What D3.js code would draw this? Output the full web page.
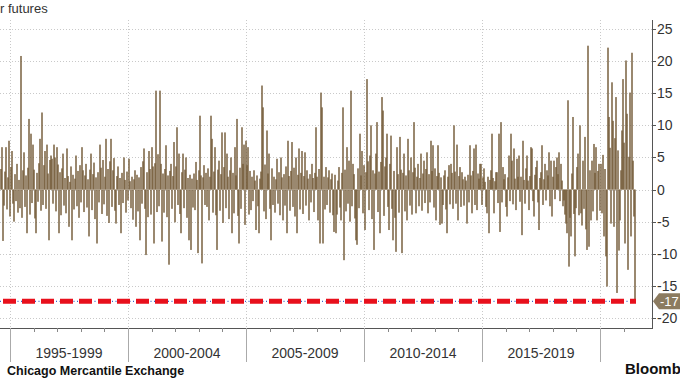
<!DOCTYPE html>
<html><head><meta charset="utf-8">
<script src="https://cdn.jsdelivr.net/npm/d3@7"></script>
<style>body{margin:0;background:#fff;} svg{display:block;}</style>
</head><body>
<svg id="c" width="680" height="383"></svg>
<script>
// bar values (one bar per period, left to right)
const values = [
/*0*/ 3.2,6.6,-8.0,-2.5,2.8,6.6,-3.1,1.9,7.6,-4.2,
/*10*/ 3.5,6.0,-2.2,-5.0,2.4,-1.8,4.0,-3.6,1.5,-2.9,
/*20*/ 20.8,-4.4,3.0,5.8,-2.7,2.2,-6.8,3.4,11.0,-3.9,
/*30*/ 8.7,-2.1,7.0,3.1,-4.5,-6.8,2.6,-1.9,4.1,7.9,
/*40*/ -3.3,12.0,-2.4,3.8,6.0,-3.0,7.0,2.5,-7.9,4.6,
/*50*/ 5.3,4.8,-2.2,7.0,5.0,-3.4,6.6,3.9,-6.8,2.7,
/*60*/ -4.0,3.3,5.6,-2.5,1.8,-3.7,6.4,2.1,-5.8,1.2,
/*70*/ 3.6,-7.9,2.3,-3.1,1.7,5.3,-2.6,2.9,-4.4,3.8,
/*80*/ -2.0,6.6,3.0,-3.5,2.2,4.0,-2.8,1.6,-7.3,3.1,
/*90*/ 5.6,-3.2,2.4,4.2,-4.6,1.9,-8.4,2.7,-2.0,7.0,
/*100*/ 3.4,-3.8,4.6,-2.3,2.0,7.9,-4.1,3.2,-5.2,4.4,
/*110*/ 7.9,-2.7,3.0,4.9,-3.3,-5.3,2.1,3.6,-2.4,1.8,
/*120*/ -6.8,2.6,-2.1,5.0,1.5,-3.6,2.8,-1.7,4.8,1.3,
/*130*/ -2.9,2.0,-4.7,1.6,3.0,-5.8,2.3,-3.4,1.9,-7.9,
/*140*/ 3.5,-2.2,4.4,6.4,-3.0,-10.2,2.7,-4.3,6.0,3.2,
/*150*/ -3.9,6.6,3.6,-8.4,4.1,15.4,-3.5,5.5,-2.6,15.4,
/*160*/ 4.0,-8.1,2.5,-3.6,3.2,6.9,-4.3,2.2,-11.7,2.9,
/*170*/ 4.0,-3.0,2.1,7.4,-5.1,3.6,9.7,-2.4,5.6,-3.8,
/*180*/ -6.8,2.7,5.6,-2.9,3.1,5.0,-4.4,1.8,-7.9,2.3,
/*190*/ -9.4,1.7,-2.8,2.5,-3.2,4.3,1.5,-9.9,3.0,11.5,
/*200*/ 2.2,-11.5,1.9,3.8,-2.4,2.6,-2.7,3.3,-4.8,2.0,
/*210*/ 11.5,7.9,-3.6,2.8,6.6,-4.0,-9.4,3.1,4.5,-3.3,
/*220*/ 2.4,8.9,-5.2,3.5,8.9,-2.9,5.6,2.0,-4.6,3.0,
/*230*/ 5.0,-6.8,2.6,-3.7,6.6,2.2,11.0,-4.1,-8.4,3.4,
/*240*/ -3.0,9.7,4.0,7.0,-5.5,7.6,3.8,6.6,-3.9,2.9,
/*250*/ -3.2,2.0,-1.8,3.0,1.4,-6.3,2.2,-2.6,-6.8,1.7,
/*260*/ 2.8,16.2,12.8,-3.4,3.9,-4.6,9.2,2.5,5.6,-3.0,
/*270*/ -7.9,3.3,-2.4,2.0,-3.6,1.6,4.8,-2.2,2.7,-4.0,
/*280*/ 5.0,1.9,-4.8,2.4,-2.5,3.6,-6.8,7.6,2.1,-3.3,
/*290*/ 2.9,7.4,-2.7,3.4,-4.2,5.0,-6.8,2.3,6.4,-3.1,
/*300*/ 2.6,6.0,-3.8,2.1,5.8,-2.5,3.0,1.7,-4.8,2.4,
/*310*/ -2.0,4.0,1.8,-3.5,2.6,9.7,2.0,-4.8,3.2,-8.4,
/*320*/ 15.1,12.8,-8.4,2.0,-3.1,3.5,-2.4,1.9,3.0,-3.6,
/*330*/ 1.6,2.5,-4.0,-6.6,2.3,-6.8,-3.9,1.4,3.5,-2.8,
/*340*/ -4.8,2.6,12.8,-11.0,3.1,-3.4,6.6,-2.2,4.5,-5.0,
/*350*/ 15.4,-2.6,4.0,2.4,-4.5,-7.9,-8.6,3.3,-2.9,8.7,
/*360*/ 2.2,6.0,-3.7,3.8,-6.3,2.7,17.2,4.4,-3.2,5.3,
/*370*/ 10.0,-4.6,3.0,-9.4,2.5,5.6,10.5,-3.5,2.8,-6.8,
/*380*/ 4.3,14.4,12.3,-4.1,3.6,5.0,8.7,-2.7,-6.3,4.0,
/*390*/ 8.4,-3.0,-7.9,2.9,-4.4,-9.7,6.6,2.4,-3.6,8.2,
/*400*/ 3.1,-9.9,2.6,5.6,-3.4,2.2,-4.8,7.9,3.0,-2.5,
/*410*/ 5.0,-3.9,2.7,10.5,3.4,-3.7,2.0,4.0,-2.6,1.8,
/*420*/ 5.6,-3.3,2.5,4.5,-2.1,3.2,5.8,-3.7,2.4,-2.0,
/*430*/ 7.6,2.9,6.9,-2.8,3.3,-4.8,2.1,6.9,2.6,-5.5,
/*440*/ 1.9,-5.3,-2.4,2.2,3.0,-3.1,-6.8,2.0,3.8,-2.3,
/*450*/ 4.0,2.6,-3.0,10.0,2.8,-2.2,7.0,-4.8,2.1,3.5,
/*460*/ -2.7,2.7,1.6,-2.5,2.0,1.4,-5.3,2.3,-2.0,6.9,
/*470*/ 2.2,-3.7,2.9,6.4,-2.4,7.0,-3.2,2.5,1.7,4.0,
/*480*/ 4.0,-2.4,1.9,3.3,1.2,-2.7,-3.7,2.0,-6.8,1.5,
/*490*/ 3.0,8.7,1.8,-3.7,1.3,2.7,2.7,-2.1,8.7,-6.6,
/*500*/ 10.5,-2.0,3.5,1.6,2.4,-2.7,-4.2,1.9,5.3,-1.8,
/*510*/ 8.7,4.5,-2.3,6.4,1.7,-3.2,4.8,2.0,5.3,-1.9,
/*520*/ 2.0,-7.1,7.6,1.5,-2.2,3.3,5.3,1.4,-3.2,2.1,
/*530*/ 6.6,6.4,-1.8,-4.2,2.3,3.5,4.5,-2.0,-6.3,1.8,
/*540*/ 2.7,6.9,-2.4,1.6,4.0,-1.7,3.0,2.2,5.8,-2.6,
/*550*/ 4.5,-4.2,2.0,4.5,-1.5,3.5,5.0,2.4,5.8,-1.8,
/*560*/ 4.0,1.4,-2.6,-1.7,-3.9,-5.3,-6.8,13.9,-12.0,-4.4,
/*570*/ -7.3,2.5,11.3,-3.8,-10.4,-2.9,3.5,5.6,-4.0,10.0,
/*580*/ -3.7,-5.6,4.5,-3.0,8.2,-6.2,-9.4,22.4,-8.9,3.0,
/*590*/ -4.8,4.5,-3.4,7.1,2.6,6.6,-4.8,2.9,4.0,-3.3,
/*600*/ 4.0,-3.7,5.4,-7.3,3.2,-10.4,-15.1,22.1,11.3,6.5,
/*610*/ -5.3,16.7,10.7,-5.8,8.0,14.4,-16.1,6.1,-9.5,-4.8,
/*620*/ 3.0,9.2,17.2,7.3,-8.4,20.1,11.8,-12.5,5.1,15.1,
/*630*/ -7.3,21.3,4.5,-4.2,-17.4
];
const yTicks = [25, 20, 15, 10, 5, 0, -5, -10, -15, -20];
const periodBounds = [1995, 2000, 2005, 2010, 2015, 2020];
const periodLabels = ["1995-1999", "2000-2004", "2005-2009", "2010-2014", "2015-2019"];
const minorYears = [1994,1996,1997,1998,1999,2001,2002,2003,2004,2006,2007,2008,2009,2011,2012,2013,2014,2016,2017,2018,2019,2021];
const latestValue = -17.4;
const latestLabel = "-17";
const titleText = "r futures";
const sourceText = "Chicago Mercantile Exchange";
const brandText = "Bloomberg";

const svg = d3.select("#c");
const plotLeft = 0, plotRight = 652, plotTop = 20, axisY = 328;
const y = d3.scaleLinear().domain([-20, 25]).range([318, 29]);
const xBar = d3.scaleLinear().domain([0, values.length]).range([0, 635]);
const xYear = d3.scaleLinear().domain([1995, 2020]).range([10, 600]);

// horizontal gridlines
svg.append("g").selectAll("line").data(yTicks).join("line")
  .attr("x1", plotLeft).attr("x2", plotRight)
  .attr("y1", d => Math.round(y(d)) + 0.5).attr("y2", d => Math.round(y(d)) + 0.5)
  .attr("stroke", "#c9c9c9").attr("stroke-width", 1).attr("stroke-dasharray", "1,2");
// vertical gridlines
svg.append("g").selectAll("line").data(periodBounds).join("line")
  .attr("x1", d => Math.round(xYear(d)) + 0.5).attr("x2", d => Math.round(xYear(d)) + 0.5)
  .attr("y1", plotTop).attr("y2", axisY)
  .attr("stroke", "#c9c9c9").attr("stroke-width", 1).attr("stroke-dasharray", "1,2");

// bars (slightly overlapping, semi-opaque so dense areas read darker)
svg.append("g").selectAll("rect").data(values).join("rect")
  .attr("x", (d, i) => xBar(i))
  .attr("width", (d, i) => (xBar(i + 1) - xBar(i)) * 2)
  .attr("y", d => y(Math.max(0, d)))
  .attr("height", d => Math.abs(y(d) - y(0)))
  .attr("fill", "#735a38").attr("fill-opacity", 0.72);

// latest value line: thin blue dotted + red dashes
const ly = y(latestValue);
svg.append("line").attr("x1", 0).attr("x2", 636).attr("y1", ly).attr("y2", ly)
  .attr("stroke", "#3a5fc8").attr("stroke-width", 1.2).attr("stroke-dasharray", "1,2.5");
svg.append("line").attr("x1", 0).attr("x2", 636).attr("y1", ly).attr("y2", ly)
  .attr("stroke", "#e8101c").attr("stroke-width", 5)
  .attr("stroke-dasharray", "13,6").attr("stroke-dashoffset", 16);

// right axis
svg.append("line").attr("x1", plotRight + 0.5).attr("x2", plotRight + 0.5)
  .attr("y1", plotTop).attr("y2", axisY).attr("stroke", "#555").attr("stroke-width", 1);
svg.append("g").selectAll("line").data(yTicks).join("line")
  .attr("x1", plotRight).attr("x2", plotRight + 4)
  .attr("y1", d => Math.round(y(d)) + 0.5).attr("y2", d => Math.round(y(d)) + 0.5)
  .attr("stroke", "#555");
svg.append("g").selectAll("text").data(yTicks).join("text")
  .attr("x", plotRight + 5).attr("y", d => y(d)).attr("dy", "0.36em")
  .attr("font-family", "Liberation Sans, Arial, sans-serif").attr("font-size", 14)
  .attr("fill", "#333").text(d => String(d));

// bottom axis
svg.append("line").attr("x1", plotLeft).attr("x2", plotRight + 1)
  .attr("y1", axisY + 0.5).attr("y2", axisY + 0.5).attr("stroke", "#555");
svg.append("g").selectAll("line").data(periodBounds).join("line")
  .attr("x1", d => Math.round(xYear(d)) + 0.5).attr("x2", d => Math.round(xYear(d)) + 0.5)
  .attr("y1", axisY).attr("y2", 362).attr("stroke", "#aaa");
svg.append("g").selectAll("line").data(minorYears).join("line")
  .attr("x1", d => Math.round(xYear(d)) + 0.5).attr("x2", d => Math.round(xYear(d)) + 0.5)
  .attr("y1", axisY).attr("y2", axisY + 4).attr("stroke", "#888");
svg.append("g").selectAll("text").data(periodLabels).join("text")
  .attr("x", (d, i) => (xYear(periodBounds[i]) + xYear(periodBounds[i + 1])) / 2)
  .attr("y", 358).attr("text-anchor", "middle")
  .attr("font-family", "Liberation Sans, Arial, sans-serif").attr("font-size", 14)
  .attr("fill", "#333").text(d => d);

// latest value tag
const tag = svg.append("g");
tag.append("path")
  .attr("d", `M${plotRight + 1},${ly} L${plotRight + 7},${ly - 8} L682,${ly - 8} L682,${ly + 8} L${plotRight + 7},${ly + 8} Z`)
  .attr("fill", "#8c7b60");
tag.append("text").attr("x", plotRight + 8).attr("y", ly).attr("dy", "0.36em")
  .attr("font-family", "Liberation Sans, Arial, sans-serif").attr("font-size", 13)
  .attr("fill", "#fff").text(latestLabel);

// texts
svg.append("text").attr("x", 0).attr("y", 13)
  .attr("font-family", "Liberation Sans, Arial, sans-serif").attr("font-size", 13)
  .attr("fill", "#333").text(titleText);
svg.append("text").attr("x", 7).attr("y", 375)
  .attr("font-family", "Liberation Sans, Arial, sans-serif").attr("font-size", 12.5)
  .attr("font-weight", "bold").attr("fill", "#111").text(sourceText);
svg.append("text").attr("x", 625).attr("y", 374)
  .attr("font-family", "Liberation Sans, Arial, sans-serif").attr("font-size", 15)
  .attr("font-weight", "bold").attr("fill", "#111").text(brandText);
</script>
</body></html>
